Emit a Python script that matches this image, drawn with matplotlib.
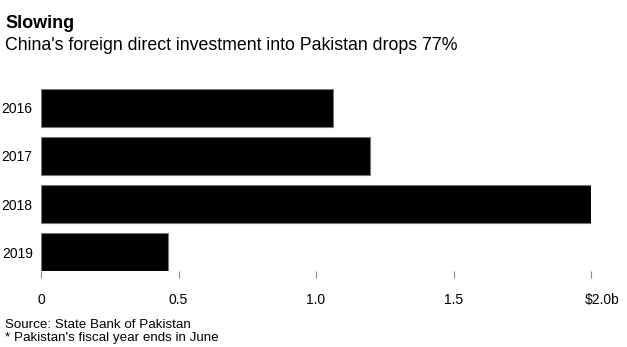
import matplotlib.pyplot as plt
from matplotlib.transforms import ScaledTranslation

plt.rcParams['font.family'] = ['Liberation Sans', 'DejaVu Sans']

# China FDI into Pakistan, fiscal years, $ billions
years = ['2016', '2017', '2018', '2019']
fdi = [1.06, 1.195, 2.0, 0.46]
xticks = [0, 0.5, 1.0, 1.5, 2.0]
xlabels = ['0', '0.5', '1.0', '1.5', '$2.0b']

fig = plt.figure(figsize=(6.27, 3.47), dpi=100)
ax = fig.add_axes([41 / 627, 1 - 271 / 347, 550 / 627, 182 / 347])

pos = range(len(years))
ax.barh(pos, fdi, height=0.78, color='black', edgecolor='#777777', linewidth=0.8)
ax.set_ylim(3.39, -0.39)
ax.set_xlim(0, 2.0)

ax.set_yticks(list(pos))
ax.set_yticklabels(years, fontsize=10)
ax.tick_params(axis='y', length=0, pad=6)

ax.set_xticks(xticks)
ax.set_xticklabels(xlabels, fontsize=10)
ax.tick_params(axis='x', length=5, width=0.8, color='#888888', pad=11,
               direction='out')
# nudge the last label to the right like the original style
last = ax.get_xticklabels()[-1]
last.set_transform(last.get_transform() + ScaledTranslation(11 / 100, 0, fig.dpi_scale_trans))

for s in ax.spines.values():
    s.set_visible(False)

fig.text(5 / 627, 1 - 28 / 347, 'Slowing', fontsize=13, fontweight='bold', va='baseline')
fig.text(5 / 627, 1 - 50 / 347, "China's foreign direct investment into Pakistan drops 77%",
         fontsize=12.8, va='baseline')
fig.text(5 / 627, 1 - 328 / 347, 'Source: State Bank of Pakistan', fontsize=9.6, va='baseline')
fig.text(5 / 627, 1 - 341 / 347, "* Pakistan's fiscal year ends in June", fontsize=9.6, va='baseline')

fig.savefig('out.png', dpi=100)
